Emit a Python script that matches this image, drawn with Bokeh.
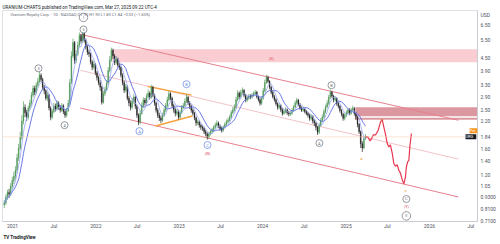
import pandas as pd
from bokeh.plotting import figure
from bokeh.models import (Range1d, FixedTicker, CustomJSTickFormatter, Label, Span,
                          ColumnDataSource, Title)
from bokeh.core.properties import value
from bokeh.embed import file_html
from bokeh.resources import INLINE

FONT = "Roboto"

first_open = 0.85
closes = [
    0.87, 0.93, 0.98, 0.96, 1.05, 1.12, 1.18, 1.26, 1.45, 1.62,
    1.83, 2.20, 2.57, 2.42, 2.30, 2.55, 2.70, 2.95, 3.19, 3.05,
    3.30, 3.45, 3.70, 3.52, 3.23, 3.10, 2.85, 2.95, 2.55, 2.30,
    2.45, 2.60, 2.52, 2.69, 2.58, 2.49, 2.62, 2.45, 2.35, 2.48,
    2.69, 3.40, 4.60, 5.36, 4.38, 4.70, 5.20, 5.80, 5.45, 5.94,
    5.50, 5.10, 4.80, 4.70, 4.30, 4.05, 4.20, 3.80, 3.60, 3.40,
    3.23, 2.72, 3.00, 3.15, 3.38, 3.90, 4.40, 4.91, 4.60, 4.28,
    4.45, 4.15, 4.05, 3.70, 3.40, 3.12, 3.25, 2.85, 2.70, 2.57,
    2.75, 2.88, 2.60, 2.35, 2.17, 2.40, 2.62, 2.79, 2.70, 2.90,
    3.02, 2.88, 3.23, 2.95, 2.70, 2.49, 2.35, 2.28, 2.22, 2.35,
    2.49, 2.62, 2.80, 3.00, 2.85, 2.62, 2.50, 2.40, 2.45, 2.30,
    2.42, 2.57, 2.62, 2.75, 2.88, 2.70, 2.60, 2.49, 2.40, 2.28,
    2.15, 2.18, 2.10, 2.05, 2.03, 1.95, 1.90, 1.83, 1.90, 1.95,
    1.98, 2.05, 2.10, 2.15, 2.08, 2.02, 1.98, 2.05, 2.12, 2.18,
    2.22, 2.30, 2.42, 2.50, 2.57, 2.80, 3.02, 2.90, 3.05, 3.12,
    2.95, 2.79, 2.85, 2.92, 2.88, 2.95, 3.00, 3.05, 2.90, 2.80,
    2.69, 2.85, 3.10, 3.40, 3.61, 3.45, 3.23, 3.05, 2.90, 2.80,
    2.68, 2.57, 2.62, 2.50, 2.40, 2.45, 2.50, 2.42, 2.38, 2.40,
    2.48, 2.58, 2.70, 2.79, 2.65, 2.55, 2.49, 2.52, 2.45, 2.40,
    2.35, 2.27, 2.32, 2.20, 2.15, 2.05, 1.94, 2.10, 2.22, 2.30,
    2.45, 2.58, 2.69, 2.88, 3.05, 2.92, 2.80, 2.85, 2.69, 2.60,
    2.48, 2.38, 2.27, 2.35, 2.42, 2.49, 2.40, 2.50, 2.54, 2.40,
    2.30, 2.12, 1.95, 1.70, 1.62, 1.80, 1.84,
]
highs = [
    0.90, 0.96, 1.01, 1.02, 1.09, 1.17, 1.24, 1.32, 1.52, 1.70,
    1.95, 2.35, 2.75, 2.66, 2.50, 2.62, 2.80, 3.05, 3.30, 3.28,
    3.40, 3.58, 3.85, 3.78, 3.60, 3.32, 3.15, 3.05, 3.00, 2.60,
    2.52, 2.70, 2.68, 2.78, 2.75, 2.64, 2.70, 2.66, 2.50, 2.55,
    2.80, 3.55, 4.85, 5.60, 5.45, 4.90, 5.40, 6.00, 5.90, 6.15,
    6.00, 5.60, 5.20, 4.95, 4.78, 4.40, 4.35, 4.25, 3.88, 3.68,
    3.50, 3.28, 3.10, 3.25, 3.50, 4.05, 4.60, 5.05, 5.00, 4.70,
    4.60, 4.52, 4.25, 4.10, 3.78, 3.48, 3.35, 3.30, 2.92, 2.78,
    2.85, 2.98, 2.92, 2.65, 2.40, 2.48, 2.72, 2.88, 2.86, 3.00,
    3.15, 3.08, 3.32, 3.28, 3.00, 2.75, 2.55, 2.42, 2.34, 2.42,
    2.56, 2.70, 2.90, 3.10, 3.05, 2.90, 2.68, 2.56, 2.52, 2.50,
    2.48, 2.64, 2.70, 2.84, 2.98, 2.92, 2.76, 2.65, 2.54, 2.44,
    2.32, 2.24, 2.22, 2.14, 2.10, 2.06, 1.99, 1.94, 1.95, 2.00,
    2.04, 2.10, 2.16, 2.22, 2.19, 2.12, 2.06, 2.09, 2.17, 2.24,
    2.28, 2.36, 2.48, 2.58, 2.66, 2.90, 3.12, 3.08, 3.14, 3.22,
    3.16, 3.00, 2.92, 2.99, 2.98, 3.02, 3.08, 3.13, 3.10, 2.95,
    2.85, 2.92, 3.20, 3.52, 3.72, 3.68, 3.50, 3.28, 3.10, 2.96,
    2.85, 2.72, 2.70, 2.66, 2.55, 2.52, 2.57, 2.54, 2.47, 2.46,
    2.54, 2.64, 2.77, 2.86, 2.83, 2.70, 2.60, 2.58, 2.56, 2.50,
    2.44, 2.39, 2.38, 2.35, 2.25, 2.18, 2.08, 2.15, 2.28, 2.37,
    2.52, 2.65, 2.78, 2.96, 3.14, 3.10, 2.96, 2.92, 2.88, 2.74,
    2.64, 2.52, 2.42, 2.40, 2.48, 2.56, 2.54, 2.56, 2.62, 2.58,
    2.44, 2.33, 2.15, 1.98, 1.75, 1.85, 1.90,
]
lows = [
    0.82, 0.85, 0.90, 0.92, 0.94, 1.02, 1.08, 1.14, 1.22, 1.40,
    1.58, 1.78, 2.12, 2.30, 2.20, 2.24, 2.48, 2.62, 2.88, 2.95,
    2.98, 3.22, 3.38, 3.42, 3.15, 2.98, 2.78, 2.75, 2.48, 2.22,
    2.25, 2.40, 2.45, 2.48, 2.50, 2.42, 2.44, 2.38, 2.28, 2.30,
    2.44, 2.65, 3.35, 4.50, 4.20, 4.25, 4.60, 5.10, 5.30, 5.35,
    5.35, 4.95, 4.65, 4.55, 4.18, 3.92, 3.95, 3.70, 3.48, 3.30,
    3.10, 2.65, 2.68, 2.92, 3.08, 3.30, 3.82, 4.30, 4.45, 4.15,
    4.18, 4.05, 3.92, 3.60, 3.30, 3.02, 3.05, 2.78, 2.60, 2.48,
    2.52, 2.68, 2.52, 2.28, 2.10, 2.12, 2.36, 2.56, 2.62, 2.65,
    2.84, 2.80, 2.84, 2.88, 2.62, 2.42, 2.28, 2.20, 2.15, 2.18,
    2.30, 2.44, 2.56, 2.75, 2.78, 2.55, 2.42, 2.32, 2.34, 2.24,
    2.26, 2.38, 2.52, 2.58, 2.70, 2.64, 2.52, 2.42, 2.34, 2.22,
    2.08, 2.10, 2.04, 1.99, 1.97, 1.90, 1.85, 1.78, 1.80, 1.87,
    1.91, 1.94, 2.01, 2.06, 2.03, 1.97, 1.93, 1.95, 2.02, 2.08,
    2.14, 2.18, 2.26, 2.38, 2.45, 2.52, 2.75, 2.82, 2.85, 2.98,
    2.88, 2.72, 2.74, 2.80, 2.82, 2.84, 2.90, 2.94, 2.84, 2.74,
    2.62, 2.64, 2.80, 3.05, 3.35, 3.38, 3.15, 2.98, 2.84, 2.74,
    2.62, 2.50, 2.52, 2.44, 2.34, 2.36, 2.40, 2.36, 2.32, 2.33,
    2.36, 2.44, 2.54, 2.65, 2.60, 2.50, 2.44, 2.44, 2.40, 2.35,
    2.29, 2.21, 2.22, 2.14, 2.08, 1.98, 1.88, 1.90, 2.06, 2.18,
    2.26, 2.40, 2.54, 2.64, 2.82, 2.86, 2.72, 2.74, 2.62, 2.54,
    2.42, 2.32, 2.21, 2.22, 2.30, 2.38, 2.35, 2.36, 2.45, 2.34,
    2.24, 2.05, 1.90, 1.62, 1.55, 1.60, 1.78,
]

proj_dates = ["2025-03-27", "2025-04-06", "2025-04-15", "2025-04-21", "2025-04-30",
              "2025-05-10", "2025-05-22", "2025-06-01", "2025-06-08", "2025-06-15",
              "2025-06-22", "2025-06-30", "2025-07-07", "2025-07-14", "2025-07-22",
              "2025-07-29", "2025-08-05", "2025-08-13", "2025-08-20", "2025-08-27",
              "2025-09-04", "2025-09-11", "2025-09-18", "2025-09-22", "2025-09-28",
              "2025-10-03", "2025-10-07", "2025-10-14"]
proj_prices = [1.84, 1.84, 1.76, 1.79, 1.88, 1.88, 1.99, 2.18, 2.24, 2.06,
               1.91, 1.71, 1.64, 1.68, 1.53, 1.36, 1.32, 1.34, 1.26, 1.22,
               1.13, 1.08, 1.17, 1.31, 1.39, 1.41, 1.64, 1.91]

chan_dates = ["2021-10-25", "2026-05-08"]
chan_upper = [5.88, 2.22]
chan_mid = [3.91, 1.43]
chan_lower = [2.55, 0.931]

tri_dates = ["2022-08-15", "2023-02-24"]
tri_upper = [3.26, 2.95]
tri_lower_dates = ["2022-09-19", "2023-02-28"]
tri_lower = [2.08, 2.33]

zone_left = ["2022-03-15", "2025-02-11", "2025-02-09"]
zone_right = ["2026-12-31", "2026-12-31", "2026-12-31"]
zone_bottom = [4.28, 2.326, 2.236]
zone_top = [4.96, 2.575, 2.287]
zone_color = ["#f9cdd1", "#dc98a1", "#dc98a1"]

gray_dates = ["2021-11-08", "2021-04-25", "2021-08-17", "2024-09-06", "2024-10-29", "2025-09-22"]
gray_prices = [6.21, 4.00, 2.10, 1.714, 3.30, 0.910]
gray_text = ["5", "3", "4", "A", "B", "C"]
roman_dates = ["2021-11-08", "2025-09-22"]
roman_prices = [7.12, 0.751]
roman_text = ["I", "II"]
blue_dates = ["2022-07-11", "2023-02-02", "2023-05-05"]
blue_prices = [1.963, 3.34, 1.676]
blue_text = ["A", "B", "C"]
red_dates = ["2023-05-05", "2024-02-09", "2025-09-22"]
red_prices = [1.514, 4.43, 0.832]
red_text = ["(W)", "(X)", "(Y)"]
orange_dates = ["2025-03-09", "2025-06-09", "2025-09-18"]
orange_prices = [1.447, 2.248, 0.997]
orange_text = ["a", "b", "c"]

price_ticks = [6.5, 5.5, 4.5, 3.9, 3.3, 2.9, 2.5, 2.2, 1.84, 1.6, 1.4, 1.2, 1.05, 0.93, 0.81, 0.71]
currency_tick = 7.28
time_ticks = ["2021-01-01", "2021-07-01", "2022-01-01", "2022-07-01", "2023-01-01", "2023-07-01",
              "2024-01-01", "2024-07-01", "2025-01-01", "2025-07-01", "2026-01-01", "2026-07-01"]
last_price = 1.84

# ---------------------------------------------------------------------------
dates = pd.date_range("2020-11-26", periods=len(closes), freq="7D")
opens = [first_open] + closes[:-1]
df = pd.DataFrame(dict(date=dates, open=opens, high=highs, low=lows, close=closes))
df["top"] = df[["open", "close"]].max(axis=1)
df["bottom"] = df[["open", "close"]].min(axis=1)
df["ma_fast"] = df["close"].rolling(5, min_periods=1).mean()
df["ma_slow"] = df["close"].rolling(10, min_periods=1).mean()
up = ColumnDataSource(df[df.close >= df.open])
dn = ColumnDataSource(df[df.close < df.open])
src = ColumnDataSource(df)

ts = pd.to_datetime
p = figure(width=500, height=244, x_axis_type="datetime", y_axis_type="log",
           y_axis_location="right",
           x_range=Range1d(ts("2020-11-18 05:00"), ts("2026-07-30 12:00")),
           y_range=Range1d(0.705, 7.70),
           toolbar_location=None, output_backend="svg",
           min_border_left=2, min_border_right=23, min_border_top=10, min_border_bottom=23)
p.background_fill_color = "white"
p.border_fill_color = "white"
p.outline_line_color = "#dfe1e6"
p.grid.grid_line_color = None

p.add_layout(Title(text="URANIUM-CHARTS published on TradingView.com, Mar 27, 2025 09:22 UTC-4",
                   align="left", text_font=FONT, text_font_size="4.5px", text_font_style="normal",
                   text_color="#131722", standoff=1, offset=0), "above")
p.add_layout(Title(text="TV TradingView", align="left", text_font=FONT, text_font_size="4.5px",
                   text_font_style="bold", text_color="#131722", standoff=2, offset=1), "below")

p.yaxis.ticker = FixedTicker(ticks=price_ticks + [currency_tick])
p.yaxis.formatter = CustomJSTickFormatter(
    args=dict(cur=currency_tick),
    code="if (Math.abs(tick - cur) < 1e-6) { return 'USD'; } return tick < 1 ? tick.toFixed(4) : tick.toFixed(2);")
p.xaxis.ticker = FixedTicker(ticks=[ts(t).value // 10**6 for t in time_ticks])
p.xaxis.formatter = CustomJSTickFormatter(
    code="const d = new Date(tick); return d.getUTCMonth() === 0 ? String(d.getUTCFullYear()) : 'Jul';")
for ax in (p.xaxis, p.yaxis):
    ax.major_label_text_font_size = "5px"
    ax.major_label_text_font = FONT
    ax.major_label_text_color = "#50535e"
    ax.major_tick_line_color = None
    ax.minor_tick_line_color = None
    ax.major_tick_out = 0
    ax.major_tick_in = 0
    ax.minor_tick_out = 0
    ax.minor_tick_in = 0
    ax.axis_line_color = "#c9ccd3"
p.yaxis.major_label_standoff = 3
p.xaxis.major_label_standoff = 1

p.quad(left=[ts(d) for d in zone_left], right=[ts(d) for d in zone_right],
       bottom=zone_bottom, top=zone_top, fill_color=zone_color, line_color=None)

p.add_layout(Span(location=last_price, dimension="width", line_color="#f5cfa8",
                  line_width=1, line_dash="1 1"))

cd = [ts(d) for d in chan_dates]
p.line(cd, chan_upper, line_color="#e8808d", line_width=1)
p.line(cd, chan_mid, line_color="#f3c3c8", line_width=1)
p.line(cd, chan_lower, line_color="#e8808d", line_width=1)

p.line([ts(d) for d in tri_dates], tri_upper, line_color="#f5a33a", line_width=1.4)
p.line([ts(d) for d in tri_lower_dates], tri_lower, line_color="#f5a33a", line_width=1.4)

bar_w = 3.8 * 86400000
p.segment(x0="date", y0="low", x1="date", y1="high", source=up, line_color="#4f9d5a", line_width=0.7)
p.segment(x0="date", y0="low", x1="date", y1="high", source=dn, line_color="#1f1f1f", line_width=0.7)
p.vbar(x="date", width=bar_w, top="top", bottom="bottom", source=up,
       fill_color="#5aa964", line_color="#3d7f47", line_width=0.3)
p.vbar(x="date", width=bar_w, top="top", bottom="bottom", source=dn,
       fill_color="#222222", line_color="#222222", line_width=0.3)

p.line("date", "ma_slow", source=src, line_color="#5a6be0", line_width=0.9)
p.line("date", "ma_fast", source=src, line_color="#98a6f2", line_width=0.8)

p.line([ts(d) for d in proj_dates], proj_prices, line_color="#e8364f", line_width=1.2)

def circled(dates_, prices_, texts_, color, size, font_size):
    p.scatter([ts(d) for d in dates_], prices_, marker="circle", size=size,
              fill_color="white", line_color=color, line_width=0.7)
    p.text([ts(d) for d in dates_], prices_, text=texts_, text_align="center",
           text_baseline="middle", text_font=value(FONT), text_font_size=font_size,
           text_color=color)

circled(gray_dates, gray_prices, gray_text, "#6a6d78", 7, "4px")
circled(roman_dates, roman_prices, roman_text, "#6a6d78", 8.5, "4px")
circled(blue_dates, blue_prices, blue_text, "#5b7fe6", 7, "4px")
p.text([ts(d) for d in red_dates], red_prices, text=red_text, text_align="center",
       text_baseline="middle", text_font=value(FONT), text_font_size="3.6px", text_color="#e0415a")
p.text([ts(d) for d in orange_dates], orange_prices, text=orange_text, text_align="center",
       text_baseline="middle", text_font=value(FONT), text_font_size="4px", text_color="#f08a24")

p.add_layout(Label(x=8, y=207, x_units="screen", y_units="screen",
                   text="Uranium Royalty Corp. \u00b7 1D \u00b7 NASDAQ   O1.90  H1.90  L1.83  C1.84  \u22120.03 (\u22121.60%)",
                   text_font=FONT, text_font_size="4px", text_color="#6a6d78", text_baseline="middle"))

# session / symbol tags at the last price, next to the price scale
p.add_layout(Label(x=467, x_units="screen", y=last_price, y_units="data", y_offset=6,
                   text=" Pre ", text_font=FONT, text_font_size="4px", text_color="white",
                   text_baseline="middle", background_fill_color="#f7931e"))
p.add_layout(Label(x=463, x_units="screen", y=last_price, y_units="data",
                   text=" URG  ", text_font=FONT, text_font_size="4px", text_color="white",
                   text_baseline="middle", background_fill_color="#131722"))

open("out.html", "w").write(file_html(p, INLINE))
